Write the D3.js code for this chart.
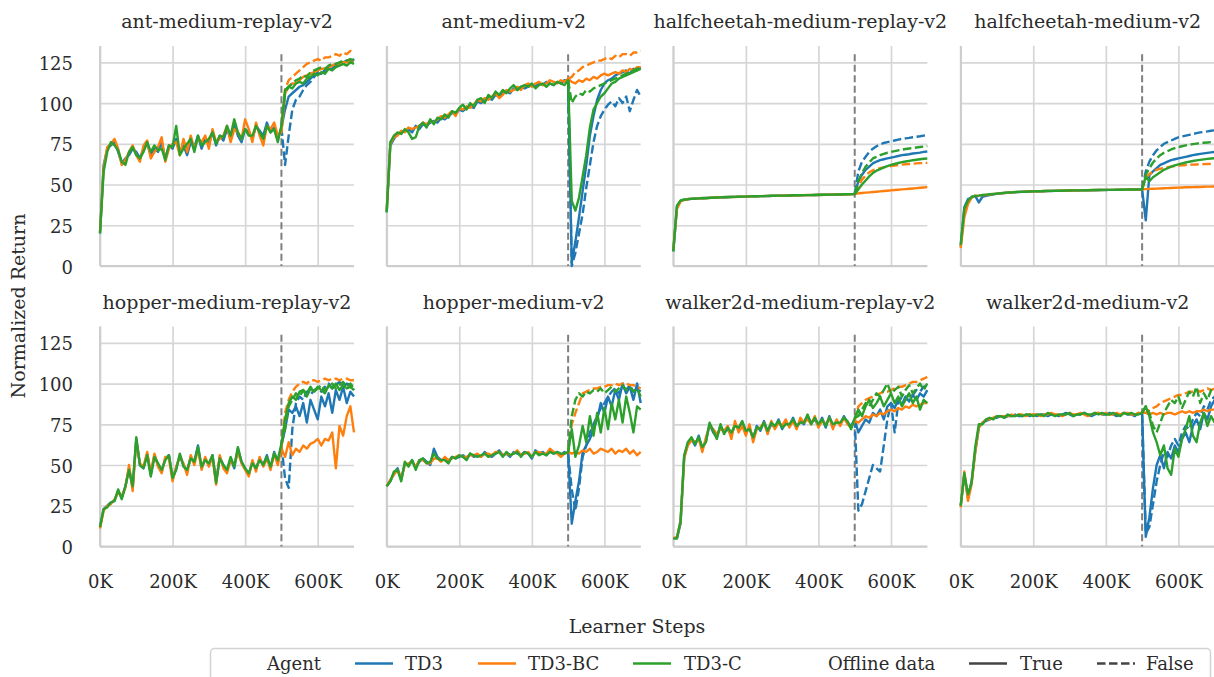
<!DOCTYPE html>
<html>
<head>
<meta charset="utf-8">
<script src="https://cdn.jsdelivr.net/npm/d3@7"></script>
<style>
  body { margin: 0; background: #fff; }
  text { font-family: "DejaVu Serif", serif; fill: #2b2b2b; font-weight: normal; }
</style>
</head>
<body>
<div id="chart"></div>
<script>
// learner steps (K) shared by every run
var steps = [0, 10, 20, 30, 40, 50, 60, 70, 80, 90, 100, 110, 120, 130, 140, 150, 160, 170, 180, 190,
  200, 210, 220, 230, 240, 250, 260, 270, 280, 290, 300, 310, 320, 330, 340, 350, 360, 370, 380, 390,
  400, 410, 420, 430, 440, 450, 460, 470, 480, 490, 500, 510, 520, 530, 540, 550, 560, 570, 580, 590,
  600, 610, 620, 630, 640, 650, 660, 670, 680, 690, 700];
// "False" runs branch off at 500K, values for 510K..700K
var offSteps = [500, 510, 520, 530, 540, 550, 560, 570, 580, 590, 600, 610, 620, 630, 640, 650, 660, 670, 680, 690, 700];

var agents = ["TD3", "TD3-BC", "TD3-C"];
var colors = ["#1f77b4", "#ff7f0e", "#2ca02c"];
var yTicks = [0, 25, 50, 75, 100, 125];
var xTicks = [0, 200, 400, 600];
var envNames = ["ant-medium-replay-v2", "ant-medium-v2", "halfcheetah-medium-replay-v2", "halfcheetah-medium-v2",
  "hopper-medium-replay-v2", "hopper-medium-v2", "walker2d-medium-replay-v2", "walker2d-medium-v2"];

// ---- ant-medium-replay-v2 ----
var antMR_td3 = [20, 62, 72, 74, 76, 70, 63, 66, 68, 72, 70, 66, 72, 75, 68, 72, 70, 76, 66, 74, 72, 78, 70, 74, 68, 76, 73, 80, 72, 78, 75, 82, 74, 80, 77, 84, 78, 88, 80, 76, 84, 82, 78, 86, 83, 80, 88, 82, 85, 78, 85,
  96, 104, 106, 108, 110, 111, 113, 115, 117, 118, 118, 120, 121, 121, 123, 124, 124, 126, 125, 127];
var antMR_td3bc = [21, 60, 73, 75, 78, 72, 62, 65, 70, 74, 68, 64, 74, 77, 66, 70, 73, 79, 64, 72, 75, 76, 68, 78, 70, 80, 72, 78, 76, 80, 72, 84, 76, 78, 80, 86, 76, 84, 82, 78, 90, 84, 76, 88, 80, 74, 86, 84, 88, 80, 82,
  106, 110, 112, 112, 114, 116, 117, 118, 119, 120, 121, 121, 122, 123, 124, 124, 125, 125, 126, 126];
var antMR_td3c = [20, 58, 70, 76, 74, 71, 64, 62, 70, 73, 68, 66, 70, 76, 70, 74, 71, 72, 65, 74, 73, 86, 68, 72, 75, 78, 70, 80, 74, 76, 78, 82, 75, 80, 79, 86, 80, 90, 82, 78, 84, 80, 80, 86, 82, 78, 86, 82, 84, 76, 86,
  108, 110, 109, 112, 113, 112, 115, 116, 118, 117, 119, 118, 121, 120, 122, 123, 124, 123, 125, 124];
var antMR_td3_off = [62, 80, 96, 102, 104, 108, 111, 113, 116, 119, 118, 120, 121, 123, 122, 124, 125, 126, 125, 127];
var antMR_td3bc_off = [108, 114, 116, 118, 120, 122, 124, 125, 126, 127, 126, 128, 128, 129, 130, 129, 131, 130, 132, 131];
var antMR_td3c_off = [106, 110, 112, 114, 115, 117, 116, 119, 120, 121, 122, 121, 123, 124, 124, 125, 126, 126, 127, 126];

// ---- ant-medium-v2 ----
var antM_td3 = [33, 74, 78, 81, 82, 83, 84, 82, 86, 84, 87, 86, 88, 89, 88, 91, 90, 92, 94, 93, 96, 95, 97, 98, 97, 101, 100, 102, 103, 102, 105, 104, 106, 107, 106, 109, 108, 110, 109, 110, 111, 110, 112, 111, 113, 112, 111, 113, 112, 114, 114,
  2, 15, 30, 46, 62, 80, 92, 102, 108, 112, 114, 115, 117, 118, 119, 120, 118, 121, 120, 122];
var antM_td3bc = [34, 75, 79, 80, 83, 82, 85, 84, 85, 86, 88, 87, 89, 88, 90, 92, 91, 93, 95, 92, 97, 96, 98, 97, 99, 102, 101, 103, 102, 104, 106, 103, 105, 108, 107, 108, 110, 108, 111, 112, 110, 112, 113, 111, 112, 114, 113, 112, 114, 113, 115,
  113, 112, 114, 113, 115, 114, 116, 115, 117, 118, 117, 118, 119, 118, 120, 119, 121, 120, 122, 122];
var antM_td3c = [33, 76, 80, 82, 81, 84, 82, 78, 79, 86, 88, 85, 90, 87, 91, 90, 93, 91, 95, 94, 97, 99, 96, 100, 98, 102, 103, 100, 105, 103, 107, 105, 108, 106, 109, 111, 108, 110, 111, 110, 112, 109, 111, 112, 110, 112, 111, 113, 112, 111, 114,
  40, 34, 42, 55, 68, 85, 96, 100, 104, 106, 109, 112, 113, 115, 116, 117, 118, 119, 120, 121];
var antM_td3_off = [0, 8, 20, 32, 48, 62, 76, 86, 92, 96, 99, 101, 98, 103, 100, 104, 95, 102, 108, 104];
var antM_td3bc_off = [116, 119, 120, 122, 123, 124, 125, 126, 126, 127, 128, 127, 129, 128, 130, 130, 129, 131, 131, 132];
var antM_td3c_off = [100, 104, 106, 105, 108, 107, 109, 110, 111, 112, 113, 114, 115, 116, 117, 118, 119, 120, 121, 122];

// ---- halfcheetah-medium-replay-v2 ----
var hcMR_td3 = [9, 36, 40, 40.6, 41, 41.2, 41.4, 41.5, 41.6, 41.7, 41.8, 41.9, 42, 42.1, 42.2, 42.3, 42.3, 42.4, 42.5, 42.5, 42.6, 42.7, 42.7, 42.8, 42.9, 42.9, 43, 43, 43.1, 43.1, 43.2, 43.2, 43.3, 43.3, 43.4, 43.4, 43.5, 43.5, 43.5, 43.6, 43.6, 43.7, 43.7, 43.8, 43.8, 43.9, 43.9, 44, 44, 44.1, 44.2,
  52, 56, 59, 61, 63, 64, 65, 65.5, 66, 66.5, 67, 67.5, 68, 68.3, 68.6, 69, 69.3, 69.6, 70, 70.3];
var hcMR_td3bc = [10, 35, 39.6, 40.5, 41.1, 41.2, 41.3, 41.6, 41.5, 41.8, 41.7, 42, 41.9, 42.2, 42.1, 42.3, 42.4, 42.3, 42.5, 42.6, 42.5, 42.7, 42.8, 42.7, 42.9, 43, 42.9, 43.1, 43, 43.2, 43.1, 43.3, 43.2, 43.4, 43.3, 43.5, 43.4, 43.6, 43.5, 43.6, 43.7, 43.6, 43.8, 43.7, 43.9, 43.8, 44, 43.9, 44.1, 44, 44.2,
  44.6, 44.8, 45, 45.2, 45.4, 45.6, 45.8, 46, 46.2, 46.4, 46.6, 46.8, 47, 47.2, 47.4, 47.6, 47.8, 48, 48.2, 48.4];
var hcMR_td3c = [9, 37, 40.2, 40.8, 41, 41.3, 41.3, 41.5, 41.7, 41.6, 41.9, 41.9, 42, 42.1, 42.3, 42.2, 42.4, 42.4, 42.5, 42.6, 42.6, 42.7, 42.8, 42.8, 42.9, 42.9, 43, 43.1, 43.1, 43.2, 43.2, 43.2, 43.3, 43.4, 43.4, 43.4, 43.5, 43.5, 43.6, 43.6, 43.7, 43.7, 43.7, 43.8, 43.8, 43.9, 43.9, 44, 44, 44.1, 44.2,
  47, 50, 52.5, 55, 57, 58.5, 59.5, 60.5, 61.3, 62, 62.6, 63.2, 63.7, 64.1, 64.5, 64.9, 65.2, 65.5, 65.8, 66];
var hcMR_td3_off = [58, 64, 67, 70, 72, 73.5, 74.5, 75.5, 76, 76.5, 77, 77.5, 78, 78.3, 78.6, 79, 79.3, 79.6, 80, 80.3];
var hcMR_td3bc_off = [49, 53, 55.5, 57.5, 58.7, 59.5, 60, 60.5, 61, 61.3, 61.6, 61.9, 62.2, 62.4, 62.6, 62.8, 63, 63.1, 63.2, 63.3];
var hcMR_td3c_off = [52, 57, 61, 63.5, 66, 67, 68, 68.8, 69.5, 70, 70.5, 71, 71.4, 71.8, 72.1, 72.4, 72.7, 73, 73.3, 73.6];

// ---- halfcheetah-medium-v2 ----
var hcM_td3 = [12, 36, 41, 42, 43, 39, 42.5, 43, 43.5, 44, 44.3, 44.5, 44.8, 45, 45.1, 45.3, 45.4, 45.5, 45.6, 45.7, 45.8, 45.8, 45.9, 45.9, 46, 46, 46.1, 46.1, 46.2, 46.2, 46.3, 46.3, 46.3, 46.4, 46.4, 46.5, 46.5, 46.5, 46.6, 46.6, 46.6, 46.7, 46.7, 46.7, 46.8, 46.8, 46.8, 46.8, 46.9, 46.9, 47,
  28, 56, 58, 60, 62, 63, 64, 65, 65.5, 66, 66.5, 67, 67.5, 68, 68.4, 68.8, 69.1, 69.4, 69.7, 70];
var hcM_td3bc = [11, 30, 38, 42, 43.2, 43, 43.5, 43.6, 43.8, 44.1, 44.4, 44.6, 44.8, 45, 45.2, 45.3, 45.5, 45.5, 45.7, 45.7, 45.8, 45.9, 45.9, 46, 46, 46.1, 46.1, 46.2, 46.2, 46.3, 46.3, 46.3, 46.4, 46.4, 46.5, 46.5, 46.5, 46.6, 46.6, 46.6, 46.7, 46.7, 46.7, 46.8, 46.8, 46.8, 46.8, 46.9, 46.9, 46.9, 47,
  47.2, 47.3, 47.4, 47.5, 47.6, 47.7, 47.8, 47.9, 48, 48.1, 48.2, 48.3, 48.3, 48.4, 48.5, 48.5, 48.6, 48.7, 48.7, 48.8];
var hcM_td3c = [13, 35, 40, 42.5, 43, 43.2, 43.6, 43.8, 44, 44.2, 44.4, 44.7, 44.9, 45.1, 45.2, 45.4, 45.5, 45.6, 45.6, 45.7, 45.8, 45.9, 45.9, 46, 46.1, 46.1, 46.2, 46.2, 46.2, 46.3, 46.3, 46.4, 46.4, 46.4, 46.5, 46.5, 46.6, 46.6, 46.6, 46.7, 46.7, 46.7, 46.7, 46.8, 46.8, 46.8, 46.9, 46.9, 46.9, 46.9, 47,
  55, 52, 54.5, 56, 57.5, 59, 60, 61, 61.8, 62.4, 63, 63.5, 64, 64.4, 64.8, 65.1, 65.4, 65.7, 66, 66.2];
var hcM_td3_off = [58, 64, 68, 71, 73, 75, 76, 77, 78, 79, 79.5, 80, 80.5, 81, 81.5, 82, 82.3, 82.6, 83, 83.3];
var hcM_td3bc_off = [54, 56.5, 58, 59, 59.7, 60.2, 60.6, 61, 61.3, 61.6, 61.8, 62, 62.1, 62.2, 62.3, 62.4, 62.5, 62.6, 62.7, 62.8];
var hcM_td3c_off = [56, 60, 63.5, 66, 68, 69.5, 70.5, 71.5, 72.3, 73, 73.5, 74, 74.4, 74.8, 75.1, 75.4, 75.6, 75.8, 76, 76.2];

// ---- hopper-medium-replay-v2 ----
var hopMR_td3 = [12, 23, 25, 27, 28, 34, 30, 37, 48, 36, 66, 50, 48, 57, 44, 56, 50, 46, 54, 56, 42, 48, 56, 50, 46, 55, 52, 62, 48, 54, 50, 56, 40, 55, 50, 46, 54, 48, 60, 52, 48, 44, 52, 48, 54, 50, 56, 48, 58, 52, 62,
  72, 84, 82, 86, 80, 88, 76, 90, 84, 78, 92, 86, 94, 82, 96, 90, 98, 88, 95, 92];
var hopMR_td3bc = [11, 22, 25, 26, 29, 33, 31, 36, 50, 34, 65, 51, 49, 58, 45, 57, 49, 45, 55, 54, 40, 49, 55, 51, 44, 56, 50, 60, 47, 55, 49, 55, 38, 56, 48, 45, 53, 50, 58, 51, 47, 43, 53, 46, 55, 49, 54, 47, 57, 50, 60,
  55, 64, 56, 60, 58, 62, 60, 63, 64, 66, 62, 66, 65, 70, 48, 74, 68, 80, 86, 70];
var hopMR_td3c = [12, 23, 24, 27, 28, 35, 29, 37, 47, 37, 67, 50, 48, 56, 43, 55, 51, 47, 53, 56, 42, 47, 57, 49, 47, 54, 52, 61, 49, 53, 51, 56, 39, 54, 50, 47, 55, 49, 61, 52, 48, 45, 51, 48, 53, 50, 55, 49, 57, 53, 63,
  78, 88, 92, 90, 95, 96, 92, 97, 95, 98, 96, 94, 99, 97, 100, 96, 99, 97, 98, 96];
var hopMR_td3_off = [42, 36, 72, 88, 92, 90, 95, 93, 96, 97, 95, 98, 100, 97, 99, 101, 98, 100, 99, 96];
var hopMR_td3bc_off = [82, 90, 95, 98, 100, 101, 100, 102, 102, 101, 102, 103, 102, 103, 103, 102, 103, 103, 102, 102];
var hopMR_td3c_off = [72, 86, 90, 94, 92, 96, 94, 98, 95, 97, 99, 96, 98, 100, 97, 99, 101, 98, 100, 97];

// ---- hopper-medium-v2 ----
var hopM_td3 = [37, 40, 45, 48, 41, 51, 50, 53, 48, 52, 54, 52, 50, 60, 55, 53, 54, 52, 55, 54, 55, 56, 54, 57, 55, 56, 55, 58, 56, 55, 57, 59, 56, 57, 55, 58, 57, 56, 58, 57, 54, 59, 57, 58, 56, 59, 57, 58, 56, 58, 57,
  14, 28, 40, 58, 62, 66, 72, 78, 88, 82, 92, 86, 96, 90, 100, 94, 98, 90, 100, 88];
var hopM_td3bc = [37, 41, 44, 47, 42, 50, 51, 52, 49, 53, 53, 51, 51, 54, 54, 52, 55, 53, 54, 55, 56, 55, 55, 56, 56, 57, 55, 57, 57, 56, 58, 58, 56, 57, 56, 57, 59, 56, 57, 58, 55, 58, 58, 57, 57, 60, 58, 57, 55, 57, 58,
  57, 58, 57, 59, 58, 60, 57, 58, 60, 59, 58, 60, 57, 59, 58, 60, 57, 59, 56, 58];
var hopM_td3c = [37, 40, 46, 47, 40, 52, 49, 53, 47, 53, 54, 51, 52, 57, 54, 53, 53, 51, 55, 54, 56, 55, 53, 57, 56, 55, 56, 57, 55, 56, 57, 58, 55, 58, 56, 57, 58, 55, 58, 57, 55, 58, 56, 57, 56, 58, 57, 58, 57, 57, 58,
  72, 55, 62, 74, 64, 80, 68, 82, 70, 85, 72, 88, 78, 90, 76, 92, 82, 70, 86, 84];
var hopM_td3_off = [35, 22, 36, 55, 62, 70, 75, 80, 85, 88, 92, 95, 97, 94, 98, 96, 99, 95, 97, 95];
var hopM_td3bc_off = [75, 82, 88, 94, 95, 96, 97, 97, 98, 98, 99, 99, 100, 99, 100, 100, 99, 99, 98, 97];
var hopM_td3c_off = [80, 90, 94, 92, 95, 94, 96, 95, 97, 94, 96, 98, 95, 97, 99, 96, 98, 95, 97, 92];

// ---- walker2d-medium-replay-v2 ----
var walkMR_td3 = [5, 5, 14, 55, 63, 66, 62, 68, 60, 65, 75, 70, 67, 74, 70, 72, 68, 75, 72, 76, 70, 73, 66, 74, 71, 77, 70, 75, 73, 78, 72, 76, 74, 79, 73, 77, 75, 80, 76, 78, 74, 79, 73, 80, 74, 77, 75, 80, 76, 74, 78,
  70, 74, 78, 76, 82, 80, 84, 78, 86, 88, 85, 90, 87, 92, 89, 93, 90, 94, 92, 96];
var walkMR_td3bc = [5, 6, 15, 54, 62, 65, 64, 66, 58, 67, 74, 72, 69, 72, 71, 74, 66, 77, 70, 74, 68, 75, 64, 72, 73, 76, 69, 77, 72, 76, 74, 78, 73, 77, 72, 79, 76, 78, 75, 80, 73, 77, 75, 79, 72, 78, 74, 79, 75, 73, 77,
  76, 78, 80, 79, 81, 80, 82, 81, 83, 84, 83, 85, 84, 86, 85, 87, 86, 87, 88, 88];
var walkMR_td3c = [5, 5, 16, 56, 64, 67, 63, 67, 61, 64, 76, 71, 66, 75, 69, 73, 70, 74, 73, 77, 71, 72, 67, 73, 72, 76, 71, 76, 74, 77, 73, 75, 75, 78, 74, 76, 76, 81, 75, 79, 75, 78, 74, 79, 75, 76, 76, 79, 77, 72, 79,
  84, 80, 86, 90, 85, 88, 92, 86, 90, 94, 88, 92, 86, 90, 94, 88, 92, 84, 90, 88];
var walkMR_td3_off = [22, 26, 34, 42, 50, 48, 46, 62, 78, 88, 70, 88, 92, 90, 94, 93, 96, 95, 98, 99];
var walkMR_td3bc_off = [86, 88, 90, 91, 92, 93, 94, 95, 95, 96, 97, 98, 98, 99, 100, 101, 101, 102, 103, 104];
var walkMR_td3c_off = [80, 84, 88, 86, 90, 94, 92, 96, 100, 94, 96, 98, 92, 96, 99, 94, 97, 100, 96, 100];

// ---- walker2d-medium-v2 ----
var walkM_td3 = [25, 44, 30, 40, 58, 73, 76, 77, 78, 79, 79, 80, 79, 80, 80, 81, 80, 80, 81, 80, 81, 80, 81, 81, 80, 81, 81, 80, 81, 82, 81, 80, 81, 81, 82, 81, 80, 81, 82, 81, 81, 82, 81, 80, 81, 82, 81, 81, 80, 82, 81,
  6, 18, 36, 50, 56, 48, 58, 54, 62, 58, 66, 70, 64, 74, 78, 72, 82, 78, 86, 90];
var walkM_td3bc = [24, 46, 28, 38, 58, 73, 76, 78, 78, 79, 80, 80, 80, 80, 81, 80, 81, 81, 80, 81, 81, 81, 80, 81, 81, 82, 81, 81, 80, 81, 82, 81, 81, 82, 81, 80, 81, 82, 82, 81, 82, 81, 81, 82, 81, 82, 82, 81, 81, 82, 82,
  82, 81, 82, 81, 82, 81, 82, 82, 81, 82, 83, 82, 83, 82, 83, 83, 84, 83, 84, 84];
var walkM_td3c = [25, 45, 32, 39, 61, 75, 75, 78, 79, 78, 80, 80, 79, 81, 80, 80, 81, 80, 81, 81, 80, 81, 81, 80, 82, 81, 80, 81, 81, 81, 82, 80, 81, 81, 82, 81, 81, 82, 81, 82, 81, 81, 82, 81, 80, 82, 81, 82, 81, 81, 82,
  86, 80, 70, 64, 56, 62, 48, 44, 60, 55, 66, 72, 80, 68, 64, 76, 82, 74, 80, 76];
var walkM_td3_off = [8, 12, 26, 40, 50, 58, 55, 62, 66, 62, 70, 74, 72, 78, 82, 80, 86, 84, 90, 92];
var walkM_td3bc_off = [82, 84, 85, 86, 88, 89, 90, 91, 92, 93, 93, 94, 95, 95, 96, 95, 96, 97, 96, 97];
var walkM_td3c_off = [86, 82, 74, 70, 76, 82, 86, 90, 88, 92, 85, 90, 95, 92, 98, 88, 94, 90, 96, 94];

// table the drawing loop walks through
var panels = [
  { on: [antMR_td3, antMR_td3bc, antMR_td3c], off: [antMR_td3_off, antMR_td3bc_off, antMR_td3c_off] },
  { on: [antM_td3, antM_td3bc, antM_td3c], off: [antM_td3_off, antM_td3bc_off, antM_td3c_off] },
  { on: [hcMR_td3, hcMR_td3bc, hcMR_td3c], off: [hcMR_td3_off, hcMR_td3bc_off, hcMR_td3c_off] },
  { on: [hcM_td3, hcM_td3bc, hcM_td3c], off: [hcM_td3_off, hcM_td3bc_off, hcM_td3c_off] },
  { on: [hopMR_td3, hopMR_td3bc, hopMR_td3c], off: [hopMR_td3_off, hopMR_td3bc_off, hopMR_td3c_off] },
  { on: [hopM_td3, hopM_td3bc, hopM_td3c], off: [hopM_td3_off, hopM_td3bc_off, hopM_td3c_off] },
  { on: [walkMR_td3, walkMR_td3bc, walkMR_td3c], off: [walkMR_td3_off, walkMR_td3bc_off, walkMR_td3c_off] },
  { on: [walkM_td3, walkM_td3bc, walkM_td3c], off: [walkM_td3_off, walkM_td3bc_off, walkM_td3c_off] }
];

var svgWidth = 1214;
var svgHeight = 677;
var plotW = 254;
var plotH = 220;
var colLeft = [100, 386.7, 673.3, 960.7];
var rowTop = [46, 326.5];
var gridColor = "#d6d6d6";
var lineW = 2.4;

var svg = d3.select("#chart")
  .append("svg")
  .attr("width", svgWidth)
  .attr("height", svgHeight)
  .style("display", "block");

svg.append("rect").attr("width", svgWidth).attr("height", svgHeight).attr("fill", "#fff");

var x = d3.scaleLinear().domain([0, 700]).range([0, plotW]);
var y = d3.scaleLinear().domain([0, 135]).range([plotH, 0]);

var line = d3.line()
  .x(d => x(d[0]))
  .y(d => y(d[1]));

panels.forEach(function(p, i) {
  var col = i % 4, row = Math.floor(i / 4);
  var g = svg.append("g")
    .attr("transform", `translate(${colLeft[col]}, ${rowTop[row]})`);

  // y grid + labels on the first column
  var leftAxis = d3.axisLeft(y)
    .tickValues(yTicks)
    .tickSize(-plotW)
    .tickPadding(27)
    .tickFormat(col === 0 ? d3.format("d") : "");
  var ya = g.append("g").call(leftAxis);
  ya.select(".domain").remove();
  ya.selectAll("line").attr("stroke", gridColor).attr("stroke-width", 1.7);
  ya.selectAll("text")
    .attr("dy", "0.4em")
    .style("font-family", "DejaVu Serif")
    .style("font-size", "18px")
    .attr("fill", "#2b2b2b");

  // x grid + labels on the bottom row
  var bottomAxis = d3.axisBottom(x)
    .tickValues(xTicks)
    .tickSize(-plotH)
    .tickPadding(28.5)
    .tickFormat(row === 1 ? (d => d + "K") : "");
  var xa = g.append("g")
    .attr("transform", `translate(0, ${plotH})`)
    .call(bottomAxis);
  xa.select(".domain").remove();
  xa.selectAll("line").attr("stroke", gridColor).attr("stroke-width", 1.7);
  xa.selectAll("text")
    .style("font-family", "DejaVu Serif")
    .style("font-size", "18px")
    .attr("fill", "#2b2b2b");

  // left and bottom spines
  g.append("line")
    .attr("x1", 0).attr("x2", 0).attr("y1", 0).attr("y2", plotH)
    .attr("stroke", "#cccccc").attr("stroke-width", 1.8);
  g.append("line")
    .attr("x1", 0).attr("x2", plotW).attr("y1", plotH).attr("y2", plotH)
    .attr("stroke", "#cccccc").attr("stroke-width", 1.8);

  // switch to online at 500K
  g.append("line")
    .attr("x1", x(500)).attr("x2", x(500))
    .attr("y1", y(130)).attr("y2", y(0))
    .attr("stroke", "#7f7f7f")
    .attr("stroke-width", 2)
    .attr("stroke-dasharray", "7,3.5");

  p.on.forEach(function(vals, a) {
    var solid = steps.map((s, k) => [s, vals[k]]);
    var dashed = offSteps.map((s, k) => [s, k === 0 ? vals[50] : p.off[a][k - 1]]);

    g.append("path")
      .datum(solid)
      .attr("d", line)
      .attr("fill", "none")
      .attr("stroke", colors[a])
      .attr("stroke-width", lineW)
      .attr("stroke-linejoin", "round");

    g.append("path")
      .datum(dashed)
      .attr("d", line)
      .attr("fill", "none")
      .attr("stroke", colors[a])
      .attr("stroke-width", lineW)
      .attr("stroke-dasharray", "8.5,3.5")
      .attr("stroke-linejoin", "round");
  });

  // title
  g.append("text")
    .attr("x", plotW / 2)
    .attr("y", -18)
    .attr("text-anchor", "middle")
    .style("font-size", "19px")
    .text(envNames[i]);
});

// axis titles
svg.append("text")
  .attr("transform", "translate(25, 306) rotate(-90)")
  .attr("text-anchor", "middle")
  .style("font-size", "19px")
  .text("Normalized Return");

svg.append("text")
  .attr("x", 637)
  .attr("y", 633)
  .attr("text-anchor", "middle")
  .style("font-size", "19px")
  .text("Learner Steps");

// legend
var legend = svg.append("g");
legend.append("rect")
  .attr("x", 210.5).attr("y", 648.5)
  .attr("width", 1000).attr("height", 44)
  .attr("rx", 4)
  .attr("fill", "#fff")
  .attr("stroke", "#d3d3d3")
  .attr("stroke-width", 1.5);

var legendY = 663.5;
var textY = 669.5;
var legendItems = [
  { label: "Agent", tx: 267 },
  { label: "TD3", lx: 355, tx: 405, color: colors[0] },
  { label: "TD3-BC", lx: 478, tx: 528, color: colors[1] },
  { label: "TD3-C", lx: 633, tx: 684, color: colors[2] },
  { label: "Offline data", tx: 828 },
  { label: "True", lx: 969, tx: 1020, color: "#444444" },
  { label: "False", lx: 1097, tx: 1146, color: "#444444", dash: "8.5,3.5" }
];

legendItems.forEach(function(d) {
  if (d.lx !== undefined) {
    legend.append("line")
      .attr("x1", d.lx).attr("x2", d.lx + 38)
      .attr("y1", legendY).attr("y2", legendY)
      .attr("stroke", d.color)
      .attr("stroke-width", 2.4)
      .attr("stroke-dasharray", d.dash || null);
  }
  legend.append("text")
    .attr("x", d.tx)
    .attr("y", textY)
    .style("font-size", "18px")
    .text(d.label);
});
</script>
</body>
</html>
